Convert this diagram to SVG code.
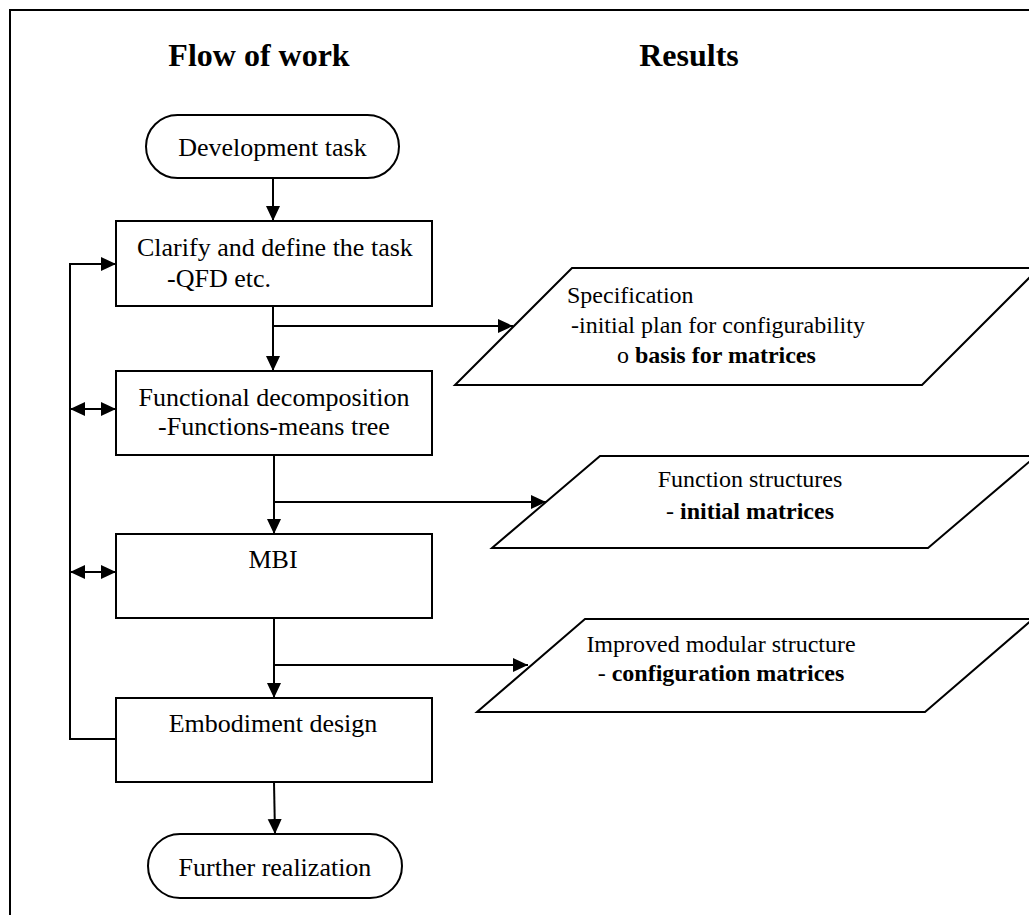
<svg xmlns="http://www.w3.org/2000/svg" width="1029" height="915" viewBox="0 0 1029 915">
  <style>
    .shape { fill: #ffffff; stroke: #000000; stroke-width: 2; }
    .wire { fill: none; stroke: #000000; stroke-width: 2; }
    .head { font-family: "Liberation Serif", "Times New Roman", serif; font-weight: bold; font-size: 32px; fill: #000000; }
    .lbl { font-family: "Liberation Serif", "Times New Roman", serif; font-size: 26px; fill: #000000; }
    .res { font-family: "Liberation Serif", "Times New Roman", serif; font-size: 24px; fill: #000000; }
    .b { font-weight: bold; }
  </style>
  <defs>
    <marker id="arrow" markerUnits="userSpaceOnUse" markerWidth="15" markerHeight="15" refX="15" refY="7.5" orient="auto-start-reverse" viewBox="0 0 15 15">
      <path d="M0,0.5 L15,7.5 L0,14.5 Z" fill="#000000"/>
    </marker>
  </defs>

  <rect width="1029" height="915" fill="#ffffff"/>

  <!-- outer frame, running off the right and bottom edges -->
  <rect x="10" y="10" width="1040" height="930" fill="none" stroke="#000000" stroke-width="2"/>

  <!-- column headings -->
  <text class="head" x="259" y="66" text-anchor="middle">Flow of work</text>
  <text class="head" x="689" y="66" text-anchor="middle">Results</text>

  <!-- connectors -->
  <g id="connectors">
    <line class="wire" x1="273" y1="178" x2="273" y2="221" marker-end="url(#arrow)"/>
    <line class="wire" x1="273" y1="306" x2="273" y2="371" marker-end="url(#arrow)"/>
    <line class="wire" x1="273" y1="326" x2="513" y2="326" marker-end="url(#arrow)"/>
    <line class="wire" x1="274" y1="455" x2="274" y2="534" marker-end="url(#arrow)"/>
    <line class="wire" x1="274" y1="502" x2="546" y2="502" marker-end="url(#arrow)"/>
    <line class="wire" x1="274" y1="618" x2="274" y2="698" marker-end="url(#arrow)"/>
    <line class="wire" x1="274" y1="665" x2="528" y2="665" marker-end="url(#arrow)"/>
    <line class="wire" x1="274" y1="782" x2="275" y2="834" marker-end="url(#arrow)"/>
    <!-- feedback loop on the left -->
    <polyline class="wire" points="116,739 70,739 70,264 116,264" marker-end="url(#arrow)"/>
    <line class="wire" x1="70" y1="409" x2="116" y2="409" marker-start="url(#arrow)" marker-end="url(#arrow)"/>
    <line class="wire" x1="70" y1="572" x2="116" y2="572" marker-start="url(#arrow)" marker-end="url(#arrow)"/>
  </g>

  <!-- flow of work -->
  <g id="dev-task">
    <rect class="shape" x="146" y="115" width="253" height="63" rx="31.5" ry="31.5"/>
    <text class="lbl" x="272.5" y="156" text-anchor="middle">Development task</text>
  </g>

  <g id="clarify">
    <rect class="shape" x="116" y="221" width="316" height="85"/>
    <text class="lbl" x="137" y="256">Clarify and define the task</text>
    <text class="lbl" x="167" y="287">-QFD etc.</text>
  </g>

  <g id="decomposition">
    <rect class="shape" x="116" y="371" width="316" height="84"/>
    <text class="lbl" x="274" y="406" text-anchor="middle">Functional decomposition</text>
    <text class="lbl" x="274" y="435" text-anchor="middle">-Functions-means tree</text>
  </g>

  <g id="mbi">
    <rect class="shape" x="116" y="534" width="316" height="84"/>
    <text class="lbl" x="273" y="568" text-anchor="middle">MBI</text>
  </g>

  <g id="embodiment">
    <rect class="shape" x="116" y="698" width="316" height="84"/>
    <text class="lbl" x="273" y="732" text-anchor="middle">Embodiment design</text>
  </g>

  <g id="further">
    <rect class="shape" x="148" y="834" width="254" height="64" rx="32" ry="32"/>
    <text class="lbl" x="275" y="876" text-anchor="middle">Further realization</text>
  </g>

  <!-- results -->
  <g id="specification">
    <polygon class="shape" points="572,268 1039,268 922,385 455,385"/>
    <text class="res" x="567" y="303">Specification</text>
    <text class="res" x="571" y="333">-initial plan for configurability</text>
    <text class="res" x="617" y="363">o <tspan class="b">basis for matrices</tspan></text>
  </g>

  <g id="function-structures">
    <polygon class="shape" points="600,456 1036,456 928,548 492,548"/>
    <text class="res" x="750" y="487" text-anchor="middle">Function structures</text>
    <text class="res" x="750" y="519" text-anchor="middle">- <tspan class="b">initial matrices</tspan></text>
  </g>

  <g id="modular-structure">
    <polygon class="shape" points="585,619 1033,619 925,712 477,712"/>
    <text class="res" x="721" y="652" text-anchor="middle">Improved modular structure</text>
    <text class="res" x="721" y="681" text-anchor="middle">- <tspan class="b">configuration matrices</tspan></text>
  </g>
</svg>
